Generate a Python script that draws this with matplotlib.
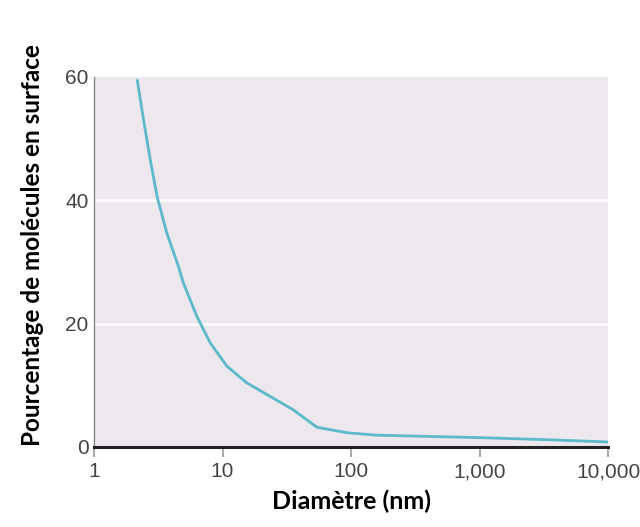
import numpy as np
import matplotlib
matplotlib.use('Agg')
import matplotlib.pyplot as plt
from matplotlib.ticker import FixedLocator, NullLocator

# values
diametre = [2.17, 2.42, 2.73, 3.11, 3.68, 4.53, 4.95, 6.3, 8.0, 10.8, 15.4,
            23.4, 35.6, 54.1, 92.6, 158, 400, 1000, 3000, 10000]
pourcentage = [59.4, 53.2, 46.7, 40.4, 34.7, 29.3, 26.6, 21.2, 16.9, 13.1, 10.4,
               8.2, 6.0, 3.2, 2.3, 1.9, 1.7, 1.5, 1.2, 0.8]

xticks = [1, 10, 100, 1000, 10000]
xtick_labels = ['1', '10', '100', '1,000', '10,000']
yticks = [0, 20, 40, 60]

fig = plt.figure(figsize=(6.4, 5.27), dpi=100)
ax = fig.add_axes([0.147, 0.152, 0.803, 0.702])
ax.set_facecolor('#ece8ee')

ax.set_xscale('log')
ax.set_xlim(1, 10000)
ax.set_ylim(0, 60)

for yv in [20, 40]:
    ax.axhline(yv, color='white', linewidth=1.8, zorder=1)

ax.plot(diametre, pourcentage, color='#5bb9c9', linewidth=2.0, zorder=3,
        solid_joinstyle='round')

ax.xaxis.set_major_locator(FixedLocator(xticks))
ax.xaxis.set_minor_locator(NullLocator())
ax.set_xticklabels(xtick_labels)
ax.set_yticks(yticks)

for s in ['top', 'right']:
    ax.spines[s].set_visible(False)
ax.spines['left'].set_color('#888888')
ax.spines['left'].set_linewidth(1.0)
ax.spines['bottom'].set_color('#222222')
ax.spines['bottom'].set_linewidth(2.2)
ax.spines['bottom'].set_zorder(4)

ax.tick_params(axis='x', direction='out', length=7, width=1.2, color='#999999',
               labelsize=15, labelcolor='#444444', pad=4)
ax.tick_params(axis='y', length=0, labelsize=15, labelcolor='#444444', pad=4)
for lab in ax.get_xticklabels() + ax.get_yticklabels():
    lab.set_family('Liberation Sans')

ax.set_xlabel('Diamètre (nm)', fontsize=18, fontweight='bold', family='Lato', labelpad=6)
ax.set_ylabel('Pourcentage de molécules en surface', fontsize=17.5, fontweight='bold',
              family='Lato')
ax.yaxis.set_label_coords(-0.098, 0.546)

fig.savefig('out.png', dpi=100)
